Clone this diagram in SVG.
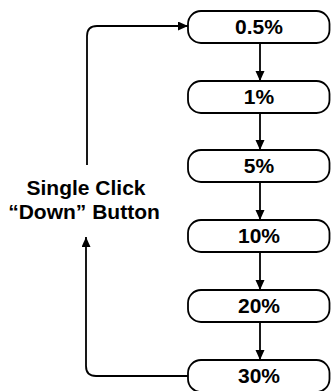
<svg xmlns="http://www.w3.org/2000/svg" width="331" height="391" viewBox="0 0 331 391">
<defs>
<style>
.box{fill:#fff;stroke:#000;stroke-width:1.8}
.t{font-family:"Liberation Sans",Arial,sans-serif;font-weight:bold;font-size:21px;text-anchor:middle;fill:#000}
.c{fill:none;stroke:#000;stroke-width:1.8}
</style>
<marker id="ah" markerUnits="userSpaceOnUse" markerWidth="11" markerHeight="10" refX="10" refY="4.5" orient="auto">
<path d="M0,0 L10,4.5 L0,9 z" fill="#000"/>
</marker>
</defs>
<rect width="331" height="391" fill="#fff"/>
<g id="connectors">
<path class="c" d="M260 43 V81" marker-end="url(#ah)"/>
<path class="c" d="M260 113 V150" marker-end="url(#ah)"/>
<path class="c" d="M260 182 V220" marker-end="url(#ah)"/>
<path class="c" d="M260 252 V290" marker-end="url(#ah)"/>
<path class="c" d="M260 322 V360" marker-end="url(#ah)"/>
<path class="c" d="M189 376 H96 Q86 376 86 366 V237" marker-end="url(#ah)"/>
<path class="c" d="M87 165 V36 Q87 26 97 26 H188" marker-end="url(#ah)"/>
</g>
<g id="label">
<text class="t" x="86" y="195">Single Click</text>
<text class="t" x="84" y="219">“Down” Button</text>
</g>
<g id="n1"><rect class="box" x="188" y="11" width="141.5" height="32" rx="13"/><text class="t" x="259" y="34">0.5%</text></g>
<g id="n2"><rect class="box" x="188" y="81" width="141.5" height="32" rx="13"/><text class="t" x="259" y="104">1%</text></g>
<g id="n3"><rect class="box" x="188" y="150" width="141.5" height="32" rx="13"/><text class="t" x="259" y="173">5%</text></g>
<g id="n4"><rect class="box" x="188" y="220" width="141.5" height="32" rx="13"/><text class="t" x="259" y="243">10%</text></g>
<g id="n5"><rect class="box" x="188" y="290" width="141.5" height="32" rx="13"/><text class="t" x="259" y="313">20%</text></g>
<g id="n6"><rect class="box" x="188" y="360" width="141.5" height="32" rx="13"/><text class="t" x="259" y="383">30%</text></g>
</svg>
